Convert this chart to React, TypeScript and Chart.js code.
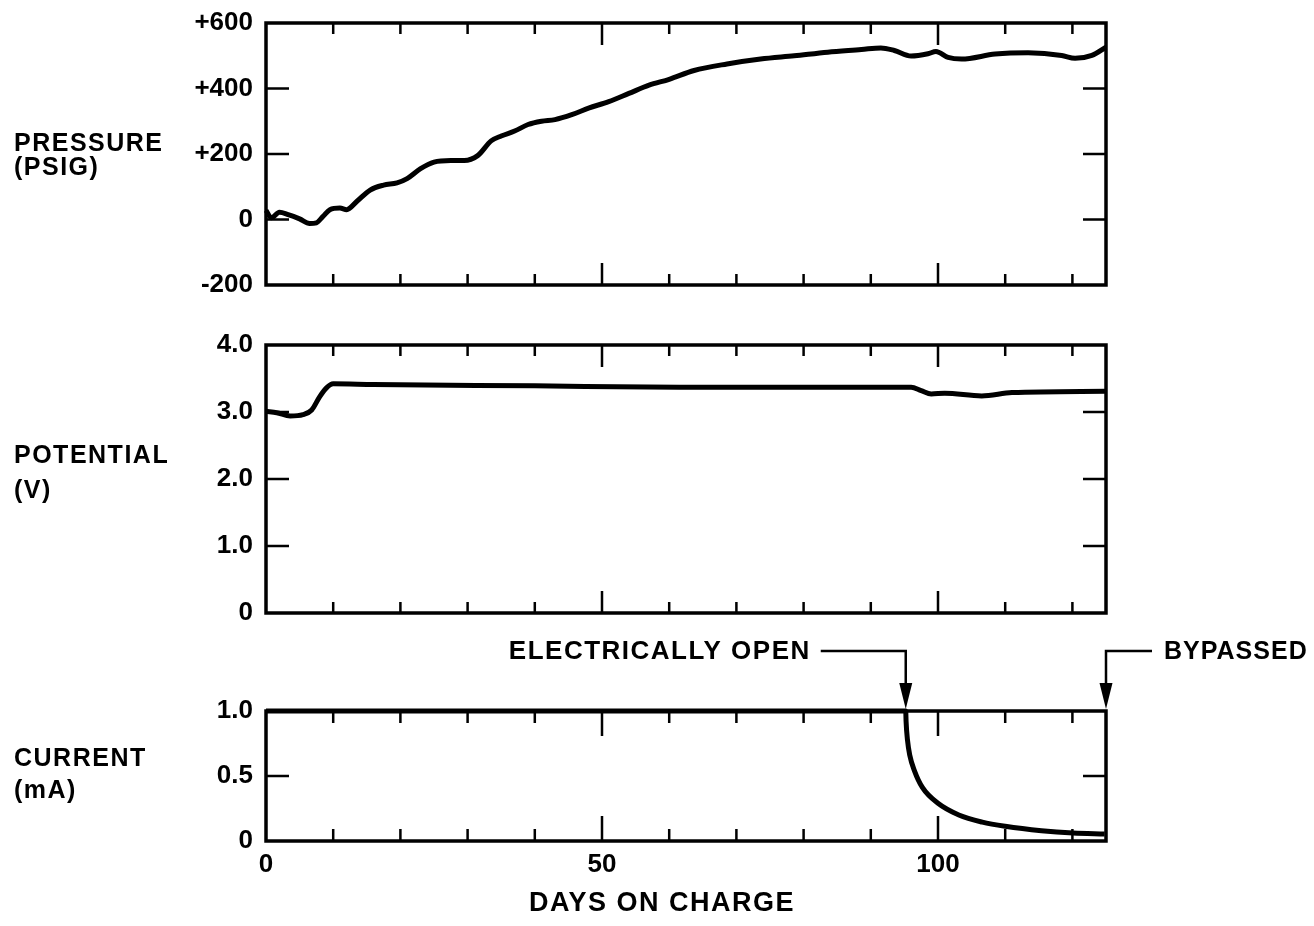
import React, { useEffect, useRef } from "react";
import { Chart, registerables } from "chart.js";

Chart.register(...registerables);

// ---------------- data ----------------
const DAYS_MIN = 0;
const DAYS_MAX = 125;
const X_LABEL_TICKS = [0, 50, 100];
const X_MARK_DAYS = [10, 20, 30, 40, 50, 60, 70, 80, 90, 100, 110, 120];
const X_LONG_MARK_DAYS = [50, 100];

const PRESSURE_TICKS = [-200, 0, 200, 400, 600];
const POTENTIAL_TICKS = [0, 1, 2, 3, 4];
const CURRENT_TICKS = [0, 0.5, 1];

const PRESSURE_DAYS = [
  0, 0.8, 2, 3.3, 5, 6.5, 7.5, 8.5, 9.5, 11, 12, 13.5, 15.5, 17.5, 19.5, 21, 23, 25, 27.5, 29.5,
  31.5, 33.5, 35, 37, 39, 41, 43, 45.5, 48, 51, 54, 57, 60, 63.7, 68.6, 73.6, 78.6, 83.6, 88.6,
  91.5, 93.5, 96, 98.5, 99.7, 101.5, 103.5, 108.5, 113.4, 118.4, 120.4, 122.9, 125,
];
const PRESSURE_PSIG = [
  28, 5, 22, 15, 2, -12, -10, 10, 30, 35, 30, 55, 90, 105, 112, 125, 155, 175, 180, 180,
  195, 240, 255, 270, 290, 300, 305, 320, 340, 360, 385, 410, 428, 455, 475, 490, 500, 511, 519,
  524, 516, 499, 506, 513, 495, 490, 505, 509, 501, 492, 501, 526,
];

const POTENTIAL_DAYS = [0, 1.6, 3.6, 5.5, 6.8, 8, 9, 10, 16, 40, 61.5, 80, 96, 97.5, 99, 101, 106.5, 111, 125];
const POTENTIAL_V = [3.01, 2.99, 2.94, 2.96, 3.03, 3.23, 3.36, 3.42, 3.41, 3.39, 3.37, 3.37, 3.37, 3.32, 3.27, 3.28, 3.24, 3.29, 3.31];

const CURRENT_DAYS = [0, 95.2, 95.25, 95.45, 95.8, 96.5, 97.7, 100, 103.1, 106.6, 110, 115.4, 120.1, 124.8];
const CURRENT_MA = [1.0, 1.0, 0.92, 0.78, 0.66, 0.54, 0.41, 0.29, 0.2, 0.145, 0.113, 0.079, 0.061, 0.053];

const ANNOTATION_DAYS = [95.2, 125];
const ANNOTATION_TEXTS = ["ELECTRICALLY OPEN", "BYPASSED"];

// ---------------- styles ----------------
const FAMILY = "'Liberation Sans', Arial, Helvetica, sans-serif";
const TICK_FONT = { family: FAMILY, size: 26, weight: "bold" as const };

function fmtPressure(v: number) {
  return v > 0 ? "+" + v : String(v);
}
function fmtOneDecimal(v: number) {
  return v === 0 ? "0" : v.toFixed(1);
}

type SideLabel = { text: string; y: number };
type Panel = {
  top: number;
  height: number;
  padTop: number;
  padBottom: number;
  xAxisHeight: number;
  showX: boolean;
  yMin: number;
  yMax: number;
  yTicks: number[];
  fmt: (v: number) => string;
  days: number[];
  values: number[];
  labels: SideLabel[];
  xShort: number;
  xLong: number;
  annotate: boolean;
};

const PANELS: Panel[] = [
  {
    top: -10, height: 340, padTop: 33, padBottom: 45, xAxisHeight: 0, showX: false,
    yMin: -200, yMax: 600, yTicks: PRESSURE_TICKS, fmt: fmtPressure,
    days: PRESSURE_DAYS, values: PRESSURE_PSIG,
    labels: [{ text: "PRESSURE", y: 154 }, { text: "(PSIG)", y: 178 }],
    xShort: 11, xLong: 22, annotate: false,
  },
  {
    top: 300, height: 360, padTop: 45, padBottom: 47, xAxisHeight: 0, showX: false,
    yMin: 0, yMax: 4, yTicks: POTENTIAL_TICKS, fmt: fmtOneDecimal,
    days: POTENTIAL_DAYS, values: POTENTIAL_V,
    labels: [{ text: "POTENTIAL", y: 156 }, { text: "(V)", y: 191 }],
    xShort: 11, xLong: 22, annotate: false,
  },
  {
    top: 628, height: 298, padTop: 83, padBottom: 0, xAxisHeight: 85, showX: true,
    yMin: 0, yMax: 1, yTicks: CURRENT_TICKS, fmt: fmtOneDecimal,
    days: CURRENT_DAYS, values: CURRENT_MA,
    labels: [{ text: "CURRENT", y: 131 }, { text: "(mA)", y: 163 }],
    xShort: 12, xLong: 25, annotate: true,
  },
];

const PLOT_LEFT = 266;
const PLOT_RIGHT = 1106;
const WIDTH = 1314;

function drawText(
  ctx: CanvasRenderingContext2D,
  text: string,
  x: number,
  y: number,
  size: number,
  align: CanvasTextAlign,
  spacing: number
) {
  ctx.save();
  ctx.font = `bold ${size}px ${FAMILY}`;
  (ctx as any).letterSpacing = spacing + "px";
  ctx.textAlign = align;
  ctx.textBaseline = "middle";
  ctx.fillStyle = "#000";
  ctx.fillText(text, x, y);
  ctx.restore();
}

function makePlugin(p: Panel) {
  return {
    id: "panelDecor",
    afterDatasetsDraw(chart: any) {
      const ctx: CanvasRenderingContext2D = chart.ctx;
      const ca = chart.chartArea;
      const xs = chart.scales.x;
      const ys = chart.scales.y;
      ctx.save();
      ctx.strokeStyle = "#000";
      ctx.lineCap = "butt";
      // frame
      ctx.lineWidth = 3.5;
      ctx.strokeRect(ca.left, ca.top, ca.right - ca.left, ca.bottom - ca.top);
      // x tick marks (inward, top and bottom)
      ctx.lineWidth = 2.5;
      ctx.beginPath();
      X_MARK_DAYS.forEach((d) => {
        const x = xs.getPixelForValue(d);
        const len = X_LONG_MARK_DAYS.includes(d) ? p.xLong : p.xShort;
        ctx.moveTo(x, ca.top);
        ctx.lineTo(x, ca.top + len);
        ctx.moveTo(x, ca.bottom);
        ctx.lineTo(x, ca.bottom - len);
      });
      // y tick marks (inward, left and right)
      p.yTicks.forEach((v) => {
        if (v === p.yMin || v === p.yMax) return;
        const y = ys.getPixelForValue(v);
        ctx.moveTo(ca.left, y);
        ctx.lineTo(ca.left + 23, y);
        ctx.moveTo(ca.right, y);
        ctx.lineTo(ca.right - 23, y);
      });
      ctx.stroke();

      // side labels
      p.labels.forEach((l) => drawText(ctx, l.text, 14, l.y, 25, "left", 1.5));

      if (p.annotate) {
        // x-axis title
        drawText(ctx, "DAYS ON CHARGE", (ca.left + ca.right) / 2 - 24, 276, 27, "center", 1.5);
        const lineY = 23;
        const headTop = 55;
        const tipY = ca.top - 2;
        ANNOTATION_DAYS.forEach((d, i) => {
          const x = xs.getPixelForValue(d);
          const leftSide = i === 0;
          const lineEnd = leftSide ? x - 85 : x + 46;
          ctx.lineWidth = 2.5;
          ctx.beginPath();
          ctx.moveTo(lineEnd, lineY);
          ctx.lineTo(x, lineY);
          ctx.lineTo(x, headTop + 2);
          ctx.stroke();
          ctx.beginPath();
          ctx.moveTo(x - 6.5, headTop);
          ctx.lineTo(x + 6.5, headTop);
          ctx.lineTo(x, tipY);
          ctx.closePath();
          ctx.fillStyle = "#000";
          ctx.fill();
          if (leftSide) {
            drawText(ctx, ANNOTATION_TEXTS[i], lineEnd - 10, lineY + 1, 26, "right", 1.5);
          } else {
            drawText(ctx, ANNOTATION_TEXTS[i], lineEnd + 12, lineY + 1, 25, "left", 1);
          }
        });
      }
      ctx.restore();
    },
  };
}

function PanelChart({ p }: { p: Panel }) {
  const ref = useRef<HTMLCanvasElement | null>(null);
  useEffect(() => {
    if (!ref.current) return;
    const chart = new Chart(ref.current, {
      type: "line",
      data: {
        datasets: [
          {
            data: p.days.map((d, i) => ({ x: d, y: p.values[i] })),
            borderColor: "#000",
            borderWidth: 5,
            pointRadius: 0,
            fill: false,
            cubicInterpolationMode: "monotone",
            clip: 8,
          } as any,
        ],
      },
      options: {
        animation: false,
        responsive: false,
        devicePixelRatio: 1,
        layout: {
          padding: { left: 0, right: WIDTH - PLOT_RIGHT, top: p.padTop, bottom: p.padBottom },
        },
        plugins: { legend: { display: false }, tooltip: { enabled: false } },
        events: [],
        scales: {
          x: {
            type: "linear",
            min: DAYS_MIN,
            max: DAYS_MAX,
            afterFit: (s: any) => {
              s.height = p.xAxisHeight;
            },
            afterBuildTicks: (s: any) => {
              s.ticks = X_LABEL_TICKS.map((v) => ({ value: v }));
            },
            ticks: {
              display: p.showX,
              font: TICK_FONT,
              color: "#000",
              padding: 8,
              maxRotation: 0,
              autoSkip: false,
            },
            grid: { display: false, drawTicks: false },
            border: { display: false },
          },
          y: {
            type: "linear",
            min: p.yMin,
            max: p.yMax,
            afterFit: (s: any) => {
              s.width = PLOT_LEFT;
            },
            afterBuildTicks: (s: any) => {
              s.ticks = p.yTicks.map((v) => ({ value: v }));
            },
            ticks: {
              font: TICK_FONT,
              color: "#000",
              padding: 13,
              callback: (v: any) => p.fmt(Number(v)),
            },
            grid: { display: false, drawTicks: false },
            border: { display: false },
          },
        },
      },
      plugins: [makePlugin(p)],
    });
    return () => chart.destroy();
  }, [p]);
  return (
    <canvas
      ref={ref}
      width={WIDTH}
      height={p.height}
      style={{ position: "absolute", left: 0, top: p.top, width: WIDTH, height: p.height }}
    />
  );
}

export default function App() {
  return (
    <div
      style={{
        position: "absolute",
        left: 0,
        top: 0,
        width: WIDTH,
        height: 926,
        background: "#fff",
        overflow: "hidden",
      }}
    >
      {PANELS.map((p, i) => (
        <PanelChart key={i} p={p} />
      ))}
    </div>
  );
}
